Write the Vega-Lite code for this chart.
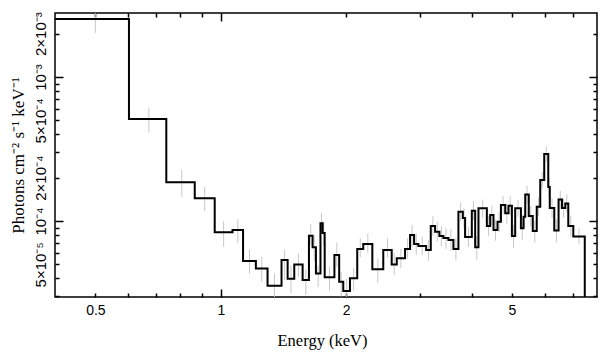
{
  "$schema": "https://vega.github.io/schema/vega-lite/v6.json",
  "width": 542,
  "height": 284,
  "autosize": {"type": "none"},
  "padding": {"left": 55, "top": 13, "right": 11, "bottom": 62},
  "background": "white",
  "config": {
    "view": {"stroke": "black", "strokeWidth": 1.5},
    "axis": {"grid": false, "domain": false, "tickColor": "black", "tickWidth": 1.5, "labelColor": "black", "titleColor": "black"}
  },
  "data": {"values": [
    {"e":0.4,"f":2.53e-3,"c":0.5,"lo":2.02e-3,"hi":3.1e-3},
    {"e":0.602,"f":5.11e-4,"c":0.672,"lo":4.1e-4,"hi":6.1e-4},
    {"e":0.740,"f":1.857e-4,"c":0.806,"lo":1.47e-4,"hi":2.26e-4},
    {"e":0.866,"f":1.437e-4,"c":0.915,"lo":1.17e-4,"hi":1.72e-4},
    {"e":0.967,"f":8.35e-5,"c":1.016,"lo":6.6e-5,"hi":1.0e-4},
    {"e":1.067,"f":8.66e-5,"c":1.099,"lo":7.0e-5,"hi":1.03e-4},
    {"e":1.131,"f":5.28e-5,"c":1.172,"lo":4.33e-5,"hi":6.36e-5},
    {"e":1.214,"f":4.69e-5,"c":1.254,"lo":3.79e-5,"hi":5.65e-5},
    {"e":1.295,"f":3.55e-5,"c":1.346,"lo":2.9e-5,"hi":4.33e-5},
    {"e":1.399,"f":5.36e-5,"c":1.423,"lo":3.89e-5,"hi":6.36e-5},
    {"e":1.447,"f":3.97e-5,"c":1.474,"lo":3.15e-5,"hi":4.9e-5},
    {"e":1.501,"f":5.00e-5,"c":1.536,"lo":4.1e-5,"hi":6.0e-5},
    {"e":1.572,"f":3.89e-5,"c":1.600,"lo":3.06e-5,"hi":4.6e-5},
    {"e":1.628,"f":7.91e-5,"c":1.644,"lo":6.8e-5,"hi":9.5e-5},
    {"e":1.661,"f":6.57e-5,"c":1.676,"lo":5.3e-5,"hi":7.9e-5},
    {"e":1.692,"f":4.33e-5,"c":1.713,"lo":3.5e-5,"hi":4.9e-5},
    {"e":1.735,"f":9.64e-5,"c":1.745,"lo":8.2e-5,"hi":1.14e-4},
    {"e":1.756,"f":8.25e-5,"c":1.766,"lo":6.8e-5,"hi":9.9e-5},
    {"e":1.776,"f":4.08e-5,"c":1.824,"lo":3.3e-5,"hi":4.8e-5},
    {"e":1.874,"f":5.81e-5,"c":1.899,"lo":4.8e-5,"hi":7.1e-5},
    {"e":1.924,"f":3.79e-5,"c":1.946,"lo":3.0e-5,"hi":4.4e-5},
    {"e":1.968,"f":3.27e-5,"c":2.005,"lo":2.8e-5,"hi":4.0e-5},
    {"e":2.042,"f":4.00e-5,"c":2.084,"lo":3.3e-5,"hi":4.7e-5},
    {"e":2.126,"f":6.39e-5,"c":2.162,"lo":5.6e-5,"hi":7.6e-5},
    {"e":2.198,"f":6.92e-5,"c":2.254,"lo":6.0e-5,"hi":8.2e-5},
    {"e":2.311,"f":4.62e-5,"c":2.382,"lo":3.7e-5,"hi":5.5e-5},
    {"e":2.455,"f":6.29e-5,"c":2.513,"lo":5.6e-5,"hi":7.6e-5},
    {"e":2.572,"f":5.00e-5,"c":2.608,"lo":4.2e-5,"hi":6.0e-5},
    {"e":2.645,"f":5.51e-5,"c":2.706,"lo":4.7e-5,"hi":6.4e-5},
    {"e":2.769,"f":6.39e-5,"c":2.808,"lo":5.5e-5,"hi":7.6e-5},
    {"e":2.847,"f":7.99e-5,"c":2.879,"lo":6.6e-5,"hi":9.4e-5},
    {"e":2.911,"f":6.92e-5,"c":2.946,"lo":5.8e-5,"hi":8.2e-5},
    {"e":2.981,"f":6.71e-5,"c":3.045,"lo":5.8e-5,"hi":7.8e-5},
    {"e":3.111,"f":6.29e-5,"c":3.151,"lo":5.3e-5,"hi":7.4e-5},
    {"e":3.192,"f":9.23e-5,"c":3.230,"lo":7.9e-5,"hi":1.08e-4},
    {"e":3.269,"f":8.43e-5,"c":3.308,"lo":7.2e-5,"hi":9.9e-5},
    {"e":3.348,"f":7.87e-5,"c":3.385,"lo":6.7e-5,"hi":9.2e-5},
    {"e":3.423,"f":7.62e-5,"c":3.471,"lo":6.4e-5,"hi":9.0e-5},
    {"e":3.519,"f":7.38e-5,"c":3.568,"lo":6.2e-5,"hi":8.8e-5},
    {"e":3.618,"f":6.39e-5,"c":3.668,"lo":5.3e-5,"hi":7.6e-5},
    {"e":3.719,"f":1.160e-4,"c":3.765,"lo":1.0e-4,"hi":1.34e-4},
    {"e":3.811,"f":1.049e-4,"c":3.835,"lo":9.0e-5,"hi":1.22e-4},
    {"e":3.859,"f":7.74e-5,"c":3.931,"lo":6.6e-5,"hi":9.1e-5},
    {"e":4.005,"f":1.179e-4,"c":4.042,"lo":1.01e-4,"hi":1.37e-4},
    {"e":4.080,"f":6.57e-5,"c":4.117,"lo":5.4e-5,"hi":7.9e-5},
    {"e":4.155,"f":1.225e-4,"c":4.252,"lo":1.06e-4,"hi":1.41e-4},
    {"e":4.352,"f":9.23e-5,"c":4.392,"lo":7.9e-5,"hi":1.08e-4},
    {"e":4.433,"f":1.101e-4,"c":4.474,"lo":9.4e-5,"hi":1.28e-4},
    {"e":4.515,"f":8.66e-5,"c":4.565,"lo":7.3e-5,"hi":1.02e-4},
    {"e":4.616,"f":9.89e-5,"c":4.660,"lo":8.4e-5,"hi":1.16e-4},
    {"e":4.704,"f":1.292e-4,"c":4.760,"lo":1.11e-4,"hi":1.50e-4},
    {"e":4.817,"f":1.131e-4,"c":4.861,"lo":9.6e-5,"hi":1.32e-4},
    {"e":4.905,"f":1.278e-4,"c":4.951,"lo":1.10e-4,"hi":1.48e-4},
    {"e":4.998,"f":7.87e-5,"c":5.044,"lo":6.5e-5,"hi":9.4e-5},
    {"e":5.090,"f":1.225e-4,"c":5.171,"lo":1.07e-4,"hi":1.40e-4},
    {"e":5.253,"f":8.90e-5,"c":5.291,"lo":7.4e-5,"hi":1.05e-4},
    {"e":5.330,"f":1.071e-4,"c":5.355,"lo":9.0e-5,"hi":1.26e-4},
    {"e":5.381,"f":1.528e-4,"c":5.433,"lo":1.32e-4,"hi":1.76e-4},
    {"e":5.486,"f":1.083e-4,"c":5.547,"lo":9.2e-5,"hi":1.27e-4},
    {"e":5.609,"f":8.52e-5,"c":5.671,"lo":7.1e-5,"hi":1.01e-4},
    {"e":5.734,"f":1.257e-4,"c":5.790,"lo":1.08e-4,"hi":1.46e-4},
    {"e":5.846,"f":1.926e-4,"c":5.911,"lo":1.68e-4,"hi":2.2e-4},
    {"e":5.976,"f":2.92e-4,"c":6.043,"lo":2.58e-4,"hi":3.3e-4},
    {"e":6.111,"f":1.722e-4,"c":6.136,"lo":1.48e-4,"hi":2.0e-4},
    {"e":6.162,"f":1.231e-4,"c":6.239,"lo":1.05e-4,"hi":1.44e-4},
    {"e":6.317,"f":8.59e-5,"c":6.393,"lo":7.1e-5,"hi":1.03e-4},
    {"e":6.469,"f":1.410e-4,"c":6.530,"lo":1.22e-4,"hi":1.62e-4},
    {"e":6.592,"f":1.231e-4,"c":6.652,"lo":1.06e-4,"hi":1.43e-4},
    {"e":6.713,"f":1.323e-4,"c":6.769,"lo":1.14e-4,"hi":1.53e-4},
    {"e":6.826,"f":9.23e-5,"c":6.921,"lo":7.8e-5,"hi":1.09e-4},
    {"e":7.018,"f":7.80e-5,"c":7.244,"lo":6.9e-5,"hi":8.9e-5},
    {"e":7.477,"f":1e-5},
    {"e":8.3,"f":1e-5}
  ]},
  "resolve": {"axis": {"x": "independent", "y": "independent"}},
  "layer": [
    {
      "transform": [{"filter": "datum.c != null"}],
      "mark": {"type": "rule", "color": "#c8c8c8", "strokeWidth": 1, "clip": true},
      "encoding": {
        "x": {"field": "c", "type": "quantitative", "scale": {"type": "log", "domain": [0.4, 8]},
          "axis": {"orient": "bottom", "values": [0.5, 1, 2, 5], "format": "~g", "ticks": false, "labelFont": "Liberation Sans", "labelFontSize": 14, "labelPadding": 6, "labelFlush": false, "labelOverlap": false,
            "title": "Energy (keV)", "titleFont": "Liberation Serif", "titleFontSize": 16.5, "titleFontWeight": "normal", "titleX": 267, "titleY": 48.5, "titleAlign": "center", "titleBaseline": "alphabetic"}},
        "y": {"field": "lo", "type": "quantitative", "scale": {"type": "log", "domain": [2.97e-5, 2.78e-3]},
          "axis": {"orient": "left", "values": [5e-5, 1e-4, 2e-4, 5e-4, 1e-3, 2e-3],
            "labelExpr": "datum.value < 7e-5 ? '5×10⁻⁵' : datum.value < 1.5e-4 ? '10⁻⁴' : datum.value < 3e-4 ? '2×10⁻⁴' : datum.value < 7e-4 ? '5×10⁻⁴' : datum.value < 1.5e-3 ? '10⁻³' : '2×10⁻³'",
            "ticks": false, "labelAngle": -90, "labelAlign": "center", "labelBaseline": "alphabetic", "labelPadding": 10, "labelFont": "Liberation Sans", "labelFontSize": 15, "labelFlush": false, "labelOverlap": false,
            "title": "Photons cm⁻²  s⁻¹  keV⁻¹", "titleFont": "Liberation Serif", "titleFontSize": 17, "titleFontWeight": "normal", "titleAngle": -90, "titleX": -32, "titleY": 142, "titleAlign": "center", "titleBaseline": "alphabetic"}},
        "y2": {"field": "hi"}
      }
    },
    {
      "mark": {"type": "line", "interpolate": "step-after", "color": "black", "strokeWidth": 2, "clip": true},
      "encoding": {
        "x": {"field": "e", "type": "quantitative", "scale": {"type": "log", "domain": [0.4, 8]},
          "axis": {"orient": "bottom", "values": [0.5, 0.6, 0.7, 0.8, 0.9, 2, 3, 4, 5, 6, 7], "labels": false, "tickSize": -4, "title": null}},
        "y": {"field": "f", "type": "quantitative", "scale": {"type": "log", "domain": [2.97e-5, 2.78e-3]},
          "axis": {"orient": "left", "values": [3e-5, 4e-5, 5e-5, 6e-5, 7e-5, 8e-5, 9e-5, 2e-4, 3e-4, 4e-4, 5e-4, 6e-4, 7e-4, 8e-4, 9e-4, 2e-3], "labels": false, "tickSize": -4, "title": null}}
      }
    },
    {
      "mark": {"type": "point", "opacity": 0},
      "encoding": {
        "x": {"field": "e", "type": "quantitative", "scale": {"type": "log", "domain": [0.4, 8]},
          "axis": {"orient": "bottom", "values": [1], "labels": false, "tickSize": -8, "title": null}},
        "y": {"field": "f", "type": "quantitative", "scale": {"type": "log", "domain": [2.97e-5, 2.78e-3]},
          "axis": {"orient": "left", "values": [1e-4, 1e-3], "labels": false, "tickSize": -8, "title": null}}
      }
    },
    {
      "mark": {"type": "point", "opacity": 0},
      "encoding": {
        "x": {"field": "e", "type": "quantitative", "scale": {"type": "log", "domain": [0.4, 8]},
          "axis": {"orient": "top", "values": [0.5, 0.6, 0.7, 0.8, 0.9, 2, 3, 4, 5, 6, 7], "labels": false, "tickSize": -4, "title": null}},
        "y": {"field": "f", "type": "quantitative", "scale": {"type": "log", "domain": [2.97e-5, 2.78e-3]},
          "axis": {"orient": "right", "values": [3e-5, 4e-5, 5e-5, 6e-5, 7e-5, 8e-5, 9e-5, 2e-4, 3e-4, 4e-4, 5e-4, 6e-4, 7e-4, 8e-4, 9e-4, 2e-3], "labels": false, "tickSize": -4, "title": null}}
      }
    },
    {
      "mark": {"type": "point", "opacity": 0},
      "encoding": {
        "x": {"field": "e", "type": "quantitative", "scale": {"type": "log", "domain": [0.4, 8]},
          "axis": {"orient": "top", "values": [1], "labels": false, "tickSize": -8, "title": null}},
        "y": {"field": "f", "type": "quantitative", "scale": {"type": "log", "domain": [2.97e-5, 2.78e-3]},
          "axis": {"orient": "right", "values": [1e-4, 1e-3], "labels": false, "tickSize": -8, "title": null}}
      }
    }
  ]
}
